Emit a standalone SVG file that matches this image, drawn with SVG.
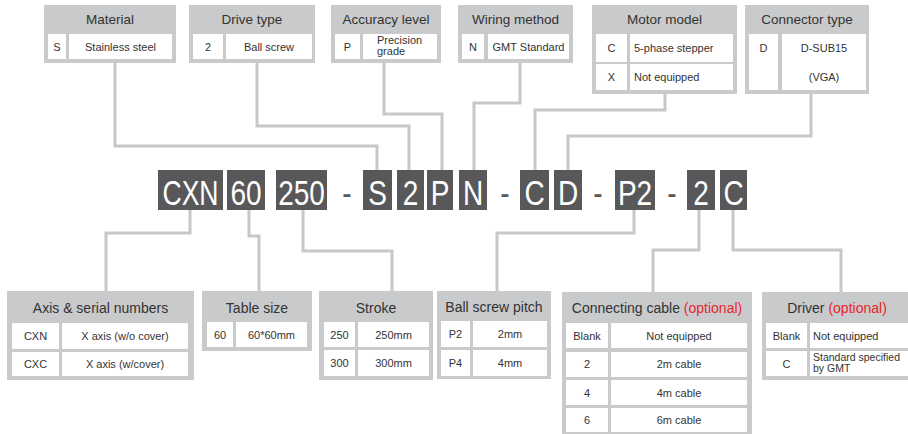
<svg xmlns="http://www.w3.org/2000/svg" width="908" height="434" viewBox="0 0 908 434">
<style>
.box{fill:#c9cacb}
.cell{fill:#ffffff}
.hd{font-family:"Liberation Sans",Arial,sans-serif;font-size:13.5px;fill:#333333;text-anchor:middle}
.tx{font-family:"Liberation Sans",Arial,sans-serif;font-size:11px;fill:#333333;text-anchor:middle}
.txl{font-family:"Liberation Sans",Arial,sans-serif;font-size:11px;fill:#333333}
.opt{fill:#e8262b}
.code{fill:#58585a}
.ct{font-family:"Liberation Sans",Arial,sans-serif;font-size:35px;fill:#ffffff;text-anchor:middle}
.dash{font-family:"Liberation Sans",Arial,sans-serif;font-size:35px;fill:#58585a;text-anchor:middle}
.ln{fill:none;stroke:#c8c8c8;stroke-width:3}
</style>

<g id="connectors">
<path class="ln" d="M115,62 V146 H377 V170"/>
<path class="ln" d="M257,62 V126 H409 V170"/>
<path class="ln" d="M384,62 V114 H442 V170"/>
<path class="ln" d="M520,62 V103 H474 V170"/>
<path class="ln" d="M665,93 V110 H535 V170"/>
<path class="ln" d="M811,93 V136 H568 V170"/>
<path class="ln" d="M190,210 V233 H106 V292"/>
<path class="ln" d="M249,210 V236 H259 V292"/>
<path class="ln" d="M303,210 V251 H392 V292"/>
<path class="ln" d="M634,210 V233 H497 V292"/>
<path class="ln" d="M699,210 V250 H653 V293"/>
<path class="ln" d="M733,210 V250 H841 V293"/>
</g>

<g id="material">
<rect class="box" x="44" y="5" width="132" height="58"/>
<text class="hd" x="110" y="24">Material</text>
<rect class="cell" x="48" y="34" width="18" height="25"/>
<rect class="cell" x="69" y="34" width="103" height="25"/>
<text class="tx" x="57" y="50.5">S</text>
<text class="tx" x="120.5" y="50.5">Stainless steel</text>
</g>

<g id="drive-type">
<rect class="box" x="189" y="5" width="126" height="58"/>
<text class="hd" x="252" y="24">Drive type</text>
<rect class="cell" x="193" y="34" width="30" height="25"/>
<rect class="cell" x="226" y="34" width="86" height="25"/>
<text class="tx" x="208" y="50.5">2</text>
<text class="tx" x="269" y="50.5">Ball screw</text>
</g>

<g id="accuracy-level">
<rect class="box" x="331" y="5" width="110" height="58"/>
<text class="hd" x="386" y="24">Accuracy level</text>
<rect class="cell" x="335" y="34" width="25" height="25"/>
<rect class="cell" x="363" y="34" width="74" height="25"/>
<text class="tx" x="347.5" y="50.5">P</text>
<text class="txl" x="377" y="44">Precision</text>
<text class="txl" x="377" y="55">grade</text>
</g>

<g id="wiring-method">
<rect class="box" x="458" y="5" width="115" height="58"/>
<text class="hd" x="515.5" y="24">Wiring method</text>
<rect class="cell" x="462" y="34" width="22" height="25"/>
<rect class="cell" x="488" y="34" width="81" height="25"/>
<text class="tx" x="473" y="50.5">N</text>
<text class="tx" x="528.5" y="50.5">GMT Standard</text>
</g>

<g id="motor-model">
<rect class="box" x="592" y="5" width="145" height="89"/>
<text class="hd" x="664.5" y="24">Motor model</text>
<rect class="cell" x="596" y="34" width="31" height="28"/>
<rect class="cell" x="630" y="34" width="103" height="28"/>
<rect class="cell" x="596" y="64" width="31" height="26"/>
<rect class="cell" x="630" y="64" width="103" height="26"/>
<text class="tx" x="611.5" y="52">C</text>
<text class="txl" x="634" y="52">5-phase stepper</text>
<text class="tx" x="611.5" y="81">X</text>
<text class="txl" x="634" y="81">Not equipped</text>
</g>

<g id="connector-type">
<rect class="box" x="745" y="5" width="124" height="89"/>
<text class="hd" x="807" y="24">Connector type</text>
<rect class="cell" x="749" y="34" width="29" height="56"/>
<rect class="cell" x="782" y="34" width="84" height="56"/>
<text class="tx" x="763.5" y="52">D</text>
<text class="tx" x="824" y="52">D-SUB15</text>
<text class="tx" x="824" y="81">(VGA)</text>
</g>

<g id="code">
<rect class="code" x="158" y="170" width="65" height="40"/>
<text class="ct" transform="translate(190.5,205) scale(0.76,1)">CXN</text>
<rect class="code" x="227" y="170" width="38" height="40"/>
<text class="ct" transform="translate(246,205) scale(0.8,1)">60</text>
<rect class="code" x="276" y="170" width="51" height="40"/>
<text class="ct" transform="translate(301.5,205) scale(0.8,1)">250</text>
<text class="dash" transform="translate(347,205) scale(0.8,1)">-</text>
<rect class="code" x="363" y="170" width="29" height="40"/>
<text class="ct" transform="translate(377.5,205) scale(0.8,1)">S</text>
<rect class="code" x="397" y="170" width="27" height="40"/>
<text class="ct" transform="translate(410.5,205) scale(0.8,1)">2</text>
<rect class="code" x="427" y="170" width="26" height="40"/>
<text class="ct" transform="translate(440,205) scale(0.8,1)">P</text>
<rect class="code" x="459" y="170" width="28" height="40"/>
<text class="ct" transform="translate(473,205) scale(0.8,1)">N</text>
<text class="dash" transform="translate(505,205) scale(0.8,1)">-</text>
<rect class="code" x="520" y="170" width="29" height="40"/>
<text class="ct" transform="translate(534.5,205) scale(0.8,1)">C</text>
<rect class="code" x="554" y="170" width="28" height="40"/>
<text class="ct" transform="translate(568,205) scale(0.8,1)">D</text>
<text class="dash" transform="translate(598,205) scale(0.8,1)">-</text>
<rect class="code" x="615" y="170" width="40" height="40"/>
<text class="ct" transform="translate(635,205) scale(0.8,1)">P2</text>
<text class="dash" transform="translate(672,205) scale(0.8,1)">-</text>
<rect class="code" x="687" y="170" width="28" height="40"/>
<text class="ct" transform="translate(701,205) scale(0.8,1)">2</text>
<rect class="code" x="720" y="170" width="27" height="40"/>
<text class="ct" transform="translate(733.5,205) scale(0.8,1)">C</text>
</g>

<g id="axis-serial">
<rect class="box" x="7" y="291" width="187" height="89"/>
<text class="hd" x="100.5" y="313" style="font-size:14px">Axis &amp; serial numbers</text>
<rect class="cell" x="12" y="323" width="47" height="26"/>
<rect class="cell" x="62" y="323" width="126" height="26"/>
<rect class="cell" x="12" y="352" width="47" height="24"/>
<rect class="cell" x="62" y="352" width="126" height="24"/>
<text class="tx" x="35.5" y="340">CXN</text>
<text class="tx" x="125" y="340">X axis (w/o cover)</text>
<text class="tx" x="35.5" y="368">CXC</text>
<text class="tx" x="125" y="368">X axis (w/cover)</text>
</g>

<g id="table-size">
<rect class="box" x="202" y="291" width="110" height="60"/>
<text class="hd" x="257" y="313" style="font-size:14px">Table size</text>
<rect class="cell" x="207" y="322" width="26" height="25"/>
<rect class="cell" x="236" y="322" width="71" height="25"/>
<text class="tx" x="220" y="338.5">60</text>
<text class="tx" x="271.5" y="338.5">60*60mm</text>
</g>

<g id="stroke">
<rect class="box" x="319" y="291" width="114" height="89"/>
<text class="hd" x="376" y="313" style="font-size:14px">Stroke</text>
<rect class="cell" x="324" y="322" width="31" height="25"/>
<rect class="cell" x="358" y="322" width="71" height="25"/>
<rect class="cell" x="324" y="350" width="31" height="26"/>
<rect class="cell" x="358" y="350" width="71" height="26"/>
<text class="tx" x="339.5" y="338.5">250</text>
<text class="tx" x="393.5" y="338.5">250mm</text>
<text class="tx" x="339.5" y="367">300</text>
<text class="tx" x="393.5" y="367">300mm</text>
</g>

<g id="ball-screw-pitch">
<rect class="box" x="437" y="291" width="114" height="88"/>
<text class="hd" x="494" y="312" style="font-size:14px">Ball screw pitch</text>
<rect class="cell" x="441" y="321" width="29" height="26"/>
<rect class="cell" x="473" y="321" width="74" height="26"/>
<rect class="cell" x="441" y="350" width="29" height="26"/>
<rect class="cell" x="473" y="350" width="74" height="26"/>
<text class="tx" x="455.5" y="338">P2</text>
<text class="tx" x="510" y="338">2mm</text>
<text class="tx" x="455.5" y="367">P4</text>
<text class="tx" x="510" y="367">4mm</text>
</g>

<g id="connecting-cable">
<rect class="box" x="562" y="292" width="190" height="146"/>
<text class="hd" x="657" y="313" style="font-size:14px">Connecting cable <tspan class="opt">(optional)</tspan></text>
<rect class="cell" x="566" y="323" width="42" height="25"/>
<rect class="cell" x="611" y="323" width="136" height="25"/>
<rect class="cell" x="566" y="352" width="42" height="25"/>
<rect class="cell" x="611" y="352" width="136" height="25"/>
<rect class="cell" x="566" y="380" width="42" height="25"/>
<rect class="cell" x="611" y="380" width="136" height="25"/>
<rect class="cell" x="566" y="408" width="42" height="24"/>
<rect class="cell" x="611" y="408" width="136" height="24"/>
<text class="tx" x="587" y="339.5">Blank</text>
<text class="tx" x="679" y="339.5">Not equipped</text>
<text class="tx" x="587" y="368">2</text>
<text class="tx" x="679" y="368">2m cable</text>
<text class="tx" x="587" y="396.5">4</text>
<text class="tx" x="679" y="396.5">4m cable</text>
<text class="tx" x="587" y="424">6</text>
<text class="tx" x="679" y="424">6m cable</text>
</g>

<g id="driver">
<rect class="box" x="762" y="292" width="150" height="88"/>
<text class="hd" x="837" y="313" style="font-size:14px">Driver <tspan class="opt">(optional)</tspan></text>
<rect class="cell" x="766" y="323" width="41" height="25"/>
<rect class="cell" x="810" y="323" width="102" height="25"/>
<rect class="cell" x="766" y="351" width="41" height="25"/>
<rect class="cell" x="810" y="351" width="102" height="25"/>
<text class="tx" x="786.5" y="339.5">Blank</text>
<text class="txl" x="813" y="339.5">Not equipped</text>
<text class="tx" x="786.5" y="367.5">C</text>
<text class="txl" x="813" y="361" style="font-size:10.5px">Standard specified</text>
<text class="txl" x="813" y="372" style="font-size:10.5px">by GMT</text>
</g>
</svg>
